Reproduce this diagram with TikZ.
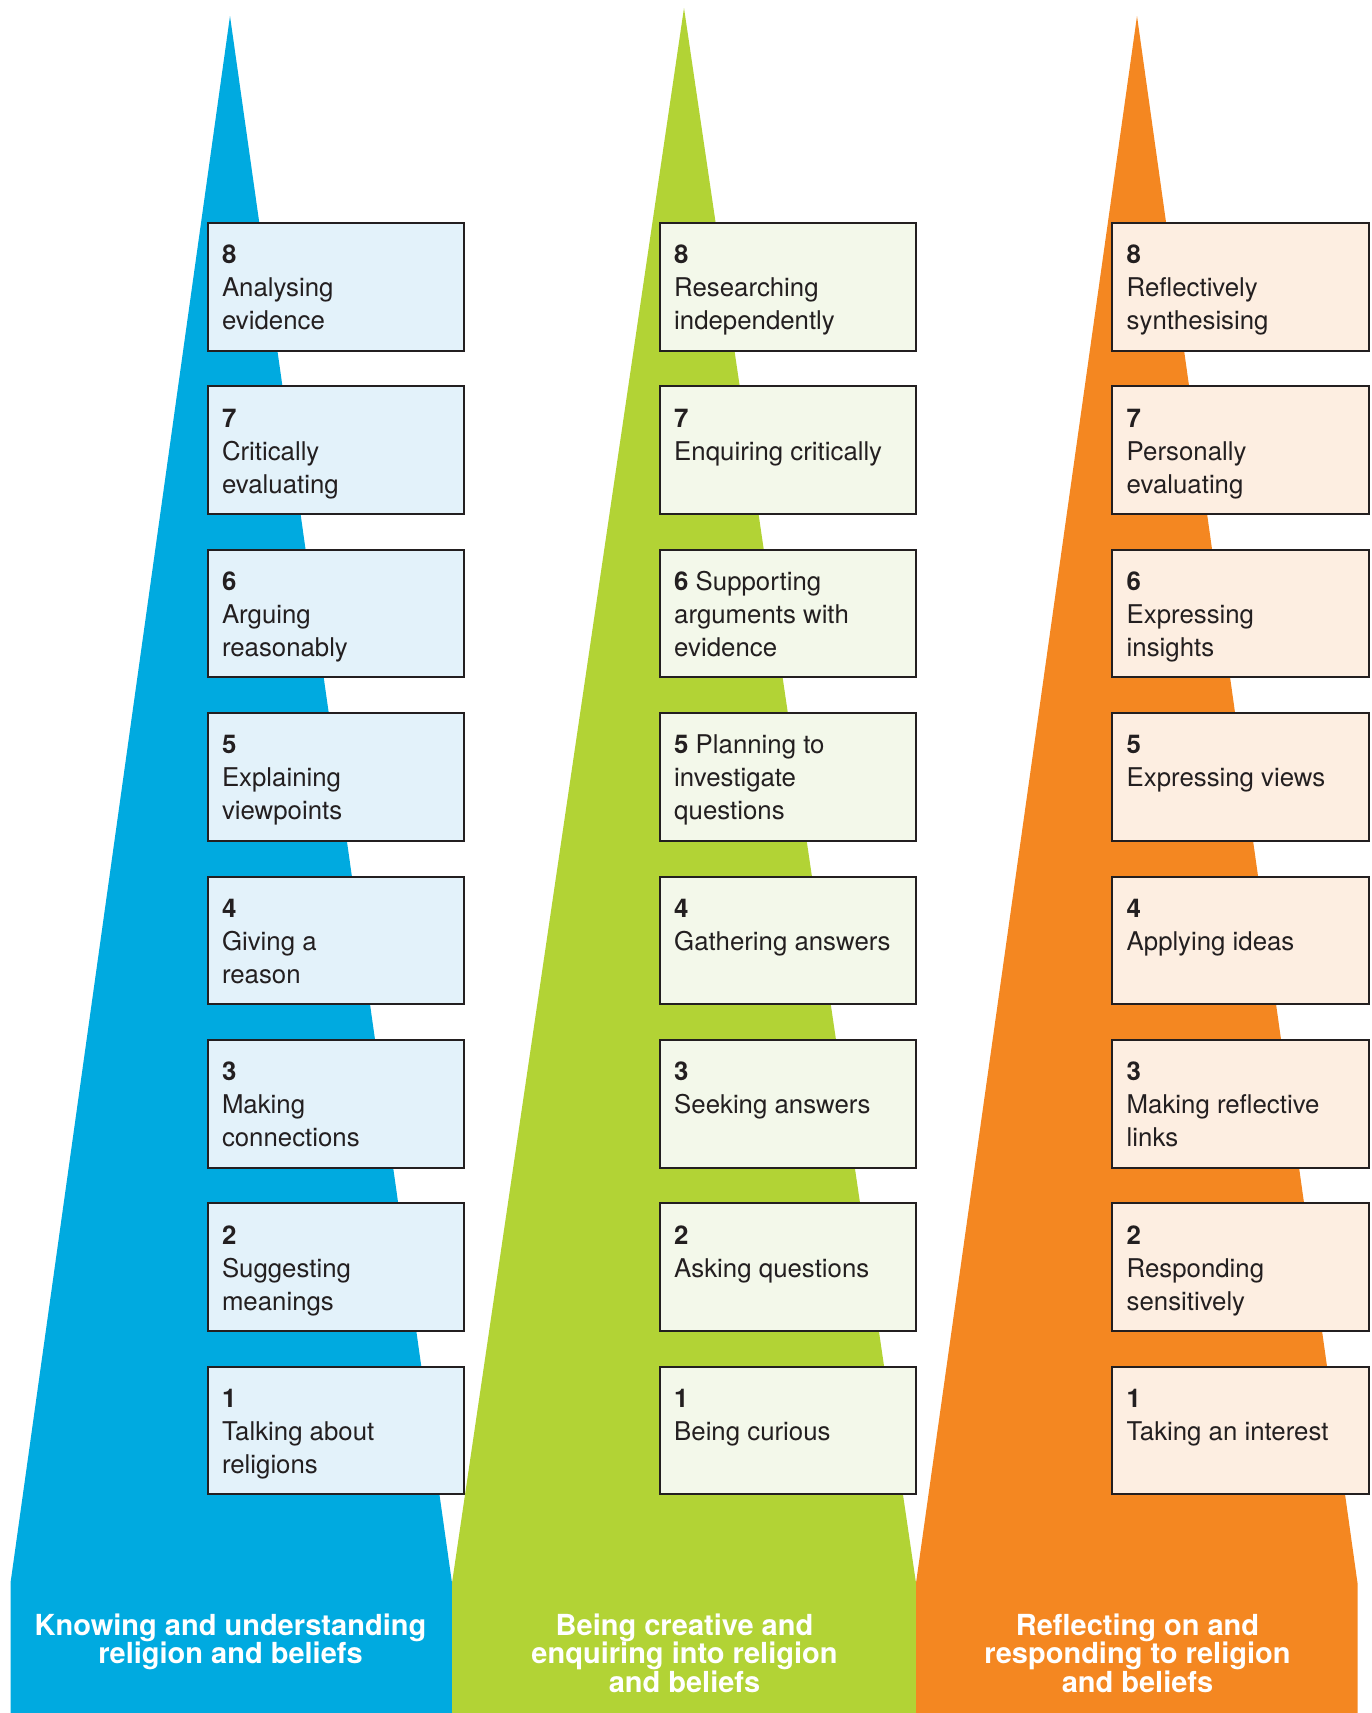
\documentclass[tikz,border=0pt]{standalone}
\usepackage{fontspec}
\setmainfont{TeX Gyre Heros}
\definecolor{cblue}{HTML}{00AAE0}
\definecolor{cgreen}{HTML}{B2D335}
\definecolor{corange}{HTML}{F48721}
\definecolor{lblue}{HTML}{E3F2FA}
\definecolor{lgreen}{HTML}{F3F8EA}
\definecolor{lorange}{HTML}{FDEEE1}
\definecolor{txt}{HTML}{231F20}
\tikzset{
  lvl/.style={draw=txt, line width=2pt, minimum width=256.3pt, minimum height=127.5pt, inner sep=0pt, outer sep=0pt},
  lvltext/.style={inner sep=0pt, outer sep=0pt, text=txt, font=\fontsize{25.8}{33}\selectfont},
  band/.style={inner sep=0pt, text=white, font=\bfseries\fontsize{29}{26.7}\selectfont}
}
\newcommand\lvlbox[5]{%
  \node[lvl, fill=#4, anchor=north west] (#1) at (#2, {223+(8-#3)*163.4}) {};
  \node[lvltext, anchor=base west] (#1t) at ([shift={(14.5,40.6)}]#1.north west) {\parbox[t]{235pt}{\raggedright #5}};
}
\newcommand\bandtext[1]{\parbox[t]{440pt}{\centering #1}}
\begin{document}
\begin{tikzpicture}[x=1pt,y=-1pt]
\useasboundingbox (0,0) rectangle (1371,1713);
% coloured pyramids with bands
\fill[cblue] (230,16) -- (452,1583) -- (452,1713) -- (10.5,1713) -- (10.5,1583) -- cycle;
\fill[cgreen] (684,8) -- (916,1583) -- (916,1713) -- (452,1713) -- (452,1583) -- cycle;
\fill[corange] (1137,16) -- (1357.5,1583) -- (1357.5,1713) -- (916,1713) -- (916,1583) -- cycle;
% blue column
\lvlbox{k8}{207.5}{8}{lblue}{\textbf{8}\\Analysing\\evidence}
\lvlbox{k7}{207.5}{7}{lblue}{\textbf{7}\\Critically\\evaluating}
\lvlbox{k6}{207.5}{6}{lblue}{\textbf{6}\\Arguing\\reasonably}
\lvlbox{k5}{207.5}{5}{lblue}{\textbf{5}\\Explaining\\viewpoints}
\lvlbox{k4}{207.5}{4}{lblue}{\textbf{4}\\Giving a\\reason}
\lvlbox{k3}{207.5}{3}{lblue}{\textbf{3}\\Making\\connections}
\lvlbox{k2}{207.5}{2}{lblue}{\textbf{2}\\Suggesting\\meanings}
\lvlbox{k1}{207.5}{1}{lblue}{\textbf{1}\\Talking about\\religions}
% green column
\lvlbox{c8}{659.7}{8}{lgreen}{\textbf{8}\\Researching\\independently}
\lvlbox{c7}{659.7}{7}{lgreen}{\textbf{7}\\Enquiring critically}
\lvlbox{c6}{659.7}{6}{lgreen}{\textbf{6} Supporting\\arguments with\\evidence}
\lvlbox{c5}{659.7}{5}{lgreen}{\textbf{5} Planning to\\investigate\\questions}
\lvlbox{c4}{659.7}{4}{lgreen}{\textbf{4}\\Gathering answers}
\lvlbox{c3}{659.7}{3}{lgreen}{\textbf{3}\\Seeking answers}
\lvlbox{c2}{659.7}{2}{lgreen}{\textbf{2}\\Asking questions}
\lvlbox{c1}{659.7}{1}{lgreen}{\textbf{1}\\Being curious}
% orange column
\lvlbox{r8}{1112.2}{8}{lorange}{\textbf{8}\\Reflectively\\synthesising}
\lvlbox{r7}{1112.2}{7}{lorange}{\textbf{7}\\Personally\\evaluating}
\lvlbox{r6}{1112.2}{6}{lorange}{\textbf{6}\\Expressing\\insights}
\lvlbox{r5}{1112.2}{5}{lorange}{\textbf{5}\\Expressing views}
\lvlbox{r4}{1112.2}{4}{lorange}{\textbf{4}\\Applying ideas}
\lvlbox{r3}{1112.2}{3}{lorange}{\textbf{3}\\Making reflective\\links}
\lvlbox{r2}{1112.2}{2}{lorange}{\textbf{2}\\Responding\\sensitively}
\lvlbox{r1}{1112.2}{1}{lorange}{\textbf{1}\\Taking an interest}
% band labels
\node[band, anchor=base] (lk) at (230.5,1635) {\bandtext{Knowing and understanding\\religion and beliefs}};
\node[band, anchor=base] (lc) at (684.5,1635) {\bandtext{Being creative and\\enquiring into religion\\and beliefs}};
\node[band, anchor=base] (lr) at (1137.5,1635) {\bandtext{Reflecting on and\\responding to religion\\and beliefs}};
\end{tikzpicture}
\end{document}
